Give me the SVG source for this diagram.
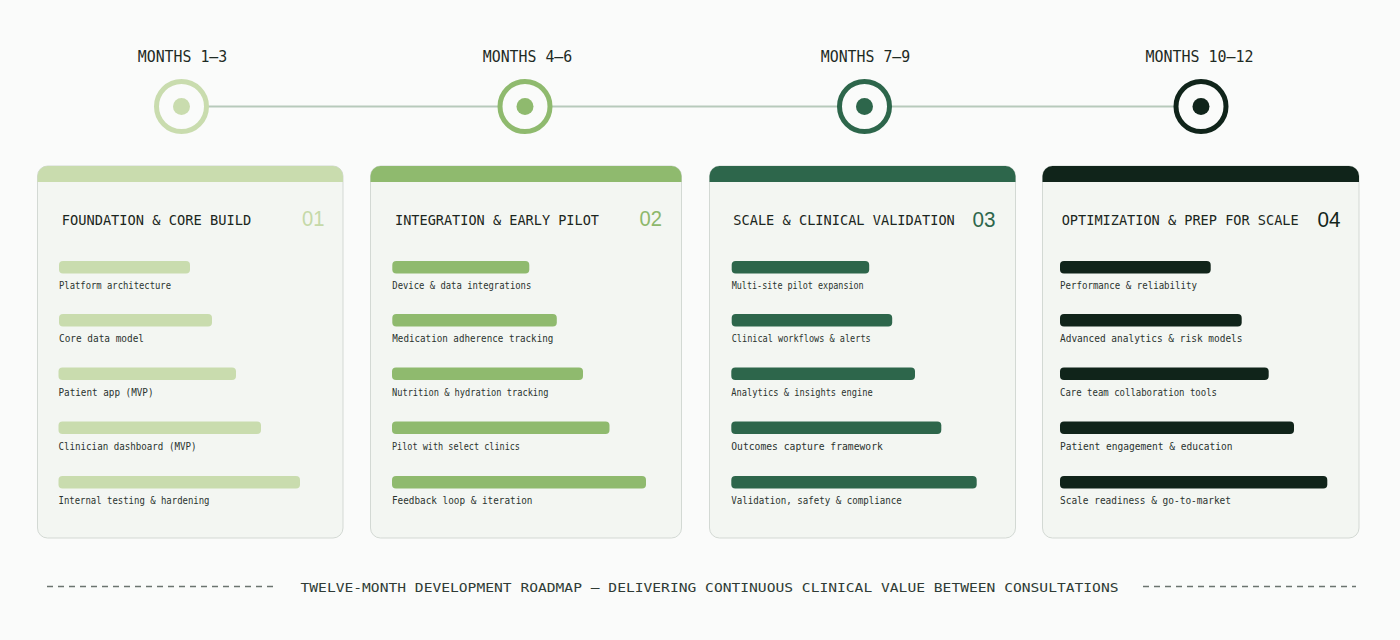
<svg xmlns="http://www.w3.org/2000/svg" width="1400" height="640" viewBox="0 0 1400 640">
  <style>
    .bg { fill: #fafbfa; }
    .card { fill: #f3f6f2; stroke: #d3d9d4; stroke-width: 1; }
    .mono { font-family: "DejaVu Sans Mono", "Liberation Mono", monospace; }
    .month { font-size: 16px; fill: #1e2a24; text-anchor: middle; }
    .title { font-size: 14.2px; fill: #1b2620; }
    .label { font-size: 11px; fill: #2a332e; }
    .num { font-family: "Liberation Sans", Arial, sans-serif; font-size: 22px; text-anchor: end; }
    .foot { font-size: 12.5px; fill: #2f3b35; }
    .dash { stroke: #6b746f; stroke-width: 1.3; stroke-dasharray: 6 5; fill: none; }
    .track { stroke: #b7cabb; stroke-width: 2; fill: none; }
    .ring { fill: #fafbfa; stroke-width: 5; }
    .p1 { fill: #c9dcae; } .s1 { stroke: #c9dcae; }
    .p2 { fill: #8fba6e; } .s2 { stroke: #8fba6e; }
    .p3 { fill: #2d664b; } .s3 { stroke: #2d664b; }
    .p4 { fill: #10241a; } .s4 { stroke: #10241a; }
    .n1 { fill: #c5d9a8; } .n2 { fill: #8db86b; } .n3 { fill: #2d664b; } .n4 { fill: #13261c; }
  </style>
  <rect class="bg" x="0" y="0" width="1400" height="640"/>

  <g id="connectors">
    <line class="track" x1="181.5" y1="106.5" x2="1201" y2="106.5"/>
  </g>

  <g id="milestone-1">
    <text class="mono month" x="182.5" y="62" textLength="89.5" lengthAdjust="spacingAndGlyphs">MONTHS 1–3</text>
    <circle class="ring s1" cx="181.5" cy="106.5" r="25"/>
    <circle class="p1" cx="181.5" cy="106.5" r="8.5"/>
  </g>
  <g id="milestone-2">
    <text class="mono month" x="527.5" y="62" textLength="89.5" lengthAdjust="spacingAndGlyphs">MONTHS 4–6</text>
    <circle class="ring s2" cx="525" cy="106.5" r="25"/>
    <circle class="p2" cx="525" cy="106.5" r="8.5"/>
  </g>
  <g id="milestone-3">
    <text class="mono month" x="865.5" y="62" textLength="89.5" lengthAdjust="spacingAndGlyphs">MONTHS 7–9</text>
    <circle class="ring s3" cx="864.5" cy="106.5" r="25"/>
    <circle class="p3" cx="864.5" cy="106.5" r="8.5"/>
  </g>
  <g id="milestone-4">
    <text class="mono month" x="1199.5" y="62" textLength="108" lengthAdjust="spacingAndGlyphs">MONTHS 10–12</text>
    <circle class="ring s4" cx="1201" cy="106.5" r="25"/>
    <circle class="p4" cx="1201" cy="106.5" r="8.5"/>
  </g>

  <g id="card-1">
    <rect class="card" x="37.5" y="166" width="305.5" height="372" rx="10"/>
    <path class="p1" d="M37.5,182 V176 A10,10 0 0 1 47.5,166 H333 A10,10 0 0 1 343,176 V182 Z"/>
    <text class="mono title" x="61.7" y="225" textLength="189.5" lengthAdjust="spacingAndGlyphs">FOUNDATION &amp; CORE BUILD</text>
    <text class="num n1" x="324.5" y="226" textLength="22.5" lengthAdjust="spacingAndGlyphs">01</text>
    <rect class="p1" x="59" y="261" width="131" height="12.5" rx="4"/>
    <text class="mono label" x="59" y="289" textLength="112" lengthAdjust="spacingAndGlyphs">Platform architecture</text>
    <rect class="p1" x="59" y="314" width="153" height="12.5" rx="4"/>
    <text class="mono label" x="59" y="342" textLength="85" lengthAdjust="spacingAndGlyphs">Core data model</text>
    <rect class="p1" x="58.5" y="367.5" width="177.5" height="12.5" rx="4"/>
    <text class="mono label" x="58.5" y="395.5" textLength="95" lengthAdjust="spacingAndGlyphs">Patient app (MVP)</text>
    <rect class="p1" x="58.5" y="421.5" width="202.5" height="12.5" rx="4"/>
    <text class="mono label" x="58.5" y="449.5" textLength="138" lengthAdjust="spacingAndGlyphs">Clinician dashboard (MVP)</text>
    <rect class="p1" x="58.5" y="476" width="241.5" height="12.5" rx="4"/>
    <text class="mono label" x="58.5" y="504" textLength="151" lengthAdjust="spacingAndGlyphs">Internal testing &amp; hardening</text>
  </g>

  <g id="card-2">
    <rect class="card" x="370.5" y="166" width="311" height="372" rx="10"/>
    <path class="p2" d="M370.5,182 V176 A10,10 0 0 1 380.5,166 H671.5 A10,10 0 0 1 681.5,176 V182 Z"/>
    <text class="mono title" x="395" y="225" textLength="204" lengthAdjust="spacingAndGlyphs">INTEGRATION &amp; EARLY PILOT</text>
    <text class="num n2" x="662" y="226" textLength="22.5" lengthAdjust="spacingAndGlyphs">02</text>
    <rect class="p2" x="392.3" y="261" width="137" height="12.5" rx="4"/>
    <text class="mono label" x="392.3" y="289" textLength="139" lengthAdjust="spacingAndGlyphs">Device &amp; data integrations</text>
    <rect class="p2" x="392.3" y="314" width="164.5" height="12.5" rx="4"/>
    <text class="mono label" x="392.3" y="342" textLength="161" lengthAdjust="spacingAndGlyphs">Medication adherence tracking</text>
    <rect class="p2" x="392" y="367.5" width="191" height="12.5" rx="4"/>
    <text class="mono label" x="392" y="395.5" textLength="156.5" lengthAdjust="spacingAndGlyphs">Nutrition &amp; hydration tracking</text>
    <rect class="p2" x="392" y="421.5" width="217.5" height="12.5" rx="4"/>
    <text class="mono label" x="392" y="449.5" textLength="128" lengthAdjust="spacingAndGlyphs">Pilot with select clinics</text>
    <rect class="p2" x="392" y="476" width="254" height="12.5" rx="4"/>
    <text class="mono label" x="392" y="504" textLength="140.5" lengthAdjust="spacingAndGlyphs">Feedback loop &amp; iteration</text>
  </g>

  <g id="card-3">
    <rect class="card" x="709.5" y="166" width="306" height="372" rx="10"/>
    <path class="p3" d="M709.5,182 V176 A10,10 0 0 1 719.5,166 H1005.5 A10,10 0 0 1 1015.5,176 V182 Z"/>
    <text class="mono title" x="733.3" y="225" textLength="221.5" lengthAdjust="spacingAndGlyphs">SCALE &amp; CLINICAL VALIDATION</text>
    <text class="num n3" x="995.5" y="226.5" textLength="23" lengthAdjust="spacingAndGlyphs">03</text>
    <rect class="p3" x="731.7" y="261" width="137.5" height="12.5" rx="4"/>
    <text class="mono label" x="731.7" y="289" textLength="132" lengthAdjust="spacingAndGlyphs">Multi-site pilot expansion</text>
    <rect class="p3" x="731.7" y="314" width="160.5" height="12.5" rx="4"/>
    <text class="mono label" x="731.7" y="342" textLength="139" lengthAdjust="spacingAndGlyphs">Clinical workflows &amp; alerts</text>
    <rect class="p3" x="731.3" y="367.5" width="183.7" height="12.5" rx="4"/>
    <text class="mono label" x="731.3" y="395.5" textLength="141.5" lengthAdjust="spacingAndGlyphs">Analytics &amp; insights engine</text>
    <rect class="p3" x="731.3" y="421.5" width="210" height="12.5" rx="4"/>
    <text class="mono label" x="731.3" y="449.5" textLength="151.5" lengthAdjust="spacingAndGlyphs">Outcomes capture framework</text>
    <rect class="p3" x="731.3" y="476" width="245.4" height="12.5" rx="4"/>
    <text class="mono label" x="731.3" y="504" textLength="170.5" lengthAdjust="spacingAndGlyphs">Validation, safety &amp; compliance</text>
  </g>

  <g id="card-4">
    <rect class="card" x="1042.5" y="166" width="316.5" height="372" rx="10"/>
    <path class="p4" d="M1042.5,182 V176 A10,10 0 0 1 1052.5,166 H1349 A10,10 0 0 1 1359,176 V182 Z"/>
    <text class="mono title" x="1061.7" y="225" textLength="237" lengthAdjust="spacingAndGlyphs">OPTIMIZATION &amp; PREP FOR SCALE</text>
    <text class="num n4" x="1340.5" y="226.5" textLength="23" lengthAdjust="spacingAndGlyphs">04</text>
    <rect class="p4" x="1060" y="261" width="150.7" height="12.5" rx="4"/>
    <text class="mono label" x="1060" y="289" textLength="137" lengthAdjust="spacingAndGlyphs">Performance &amp; reliability</text>
    <rect class="p4" x="1060" y="314" width="181.7" height="12.5" rx="4"/>
    <text class="mono label" x="1060" y="342" textLength="182.5" lengthAdjust="spacingAndGlyphs">Advanced analytics &amp; risk models</text>
    <rect class="p4" x="1060" y="367.5" width="208.7" height="12.5" rx="4"/>
    <text class="mono label" x="1060" y="395.5" textLength="157" lengthAdjust="spacingAndGlyphs">Care team collaboration tools</text>
    <rect class="p4" x="1060" y="421.5" width="234" height="12.5" rx="4"/>
    <text class="mono label" x="1060" y="449.5" textLength="172.5" lengthAdjust="spacingAndGlyphs">Patient engagement &amp; education</text>
    <rect class="p4" x="1060" y="476" width="267.3" height="12.5" rx="4"/>
    <text class="mono label" x="1060" y="504" textLength="171" lengthAdjust="spacingAndGlyphs">Scale readiness &amp; go-to-market</text>
  </g>

  <g id="footer">
    <line class="dash" x1="47" y1="586.5" x2="278" y2="586.5"/>
    <text class="mono foot" x="300.5" y="592" textLength="818" lengthAdjust="spacingAndGlyphs">TWELVE-MONTH DEVELOPMENT ROADMAP — DELIVERING CONTINUOUS CLINICAL VALUE BETWEEN CONSULTATIONS</text>
    <line class="dash" x1="1143" y1="586.5" x2="1356" y2="586.5"/>
  </g>
</svg>
